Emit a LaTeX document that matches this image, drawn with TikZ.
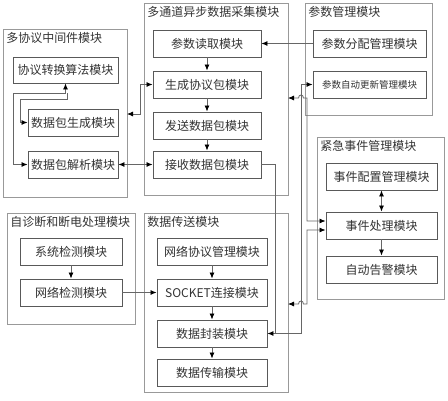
\documentclass[tikz,border=0pt]{standalone}
\usepackage{fontspec}
\setmainfont{Noto Sans CJK SC}
\usepackage{xcolor}
\usetikzlibrary{arrows.meta}
\tikzset{%
  box/.style={draw=black!65, line width=0.9pt, rectangle, minimum height=27pt, inner sep=0pt, fill=white, text=black!80, font=\fontsize{12pt}{14pt}\selectfont},%
  frame/.style={draw=black!40, line width=0.9pt, rectangle, inner sep=0pt},%
  title/.style={anchor=north west, inner sep=3.5pt, text=black!80, font=\fontsize{12pt}{14pt}\selectfont},%
  link/.style={draw=black!60, line width=0.8pt},%
  arr/.style={link, -{Latex[length=6pt,width=5pt,color=black]}},%
  darr/.style={link, {Latex[length=6pt,width=5pt,color=black]}-{Latex[length=6pt,width=5pt,color=black]}}%
}
\begin{document}
\begin{tikzpicture}[x=1pt, y=-1pt]%
\useasboundingbox (0,0) rectangle (448,400);%
\node[frame, minimum width=124pt, minimum height=168pt] (mpm) at (65,113) {};%
\node[title] (mpmt) at (mpm.north west) {多协议中间件模块};%
\node[frame, minimum width=144pt, minimum height=192pt] (mch) at (216,99) {};%
\node[title] (mcht) at (mch.north west) {多通道异步数据采集模块};%
\node[frame, minimum width=127pt, minimum height=112pt] (pm) at (368.5,59) {};%
\node[title] (pmt) at (pm.north west) {参数管理模块};%
\node[frame, minimum width=127pt, minimum height=162pt] (em) at (380.5,218) {};%
\node[title] (emt) at (em.north west) {紧急事件管理模块};%
\node[frame, minimum width=128pt, minimum height=111pt] (sd) at (71,268.5) {};%
\node[title] (sdt) at (sd.north west) {自诊断和断电处理模块};%
\node[frame, minimum width=144pt, minimum height=179pt] (dt) at (216,302.5) {};%
\node[title] (dtt) at (dt.north west) {数据传送模块};%
\node[box, minimum width=105pt, minimum height=26pt] (conv) at (65.5,70) {协议转换算法模块};%
\node[box, minimum width=90pt] (gen) at (73,122.5) {数据包生成模块};%
\node[box, minimum width=90pt] (parse) at (73,164.5) {数据包解析模块};%
\node[box, minimum width=108pt] (pread) at (207,43.5) {参数读取模块};%
\node[box, minimum width=108pt] (pgen) at (207,84.5) {生成协议包模块};%
\node[box, minimum width=108pt] (psend) at (207,125.5) {发送数据包模块};%
\node[box, minimum width=108pt] (precv) at (207,164.5) {接收数据包模块};%
\node[box, minimum width=113pt] (palloc) at (369.5,43.5) {参数分配管理模块};%
\node[box, minimum width=113pt, font=\fontsize{9.5pt}{11pt}\selectfont] (pauto) at (369.5,84.5) {参数自动更新管理模块};%
\node[box, minimum width=111pt] (evcfg) at (381.5,176.5) {事件配置管理模块};%
\node[box, minimum width=111pt] (evproc) at (381.5,225.5) {事件处理模块};%
\node[box, minimum width=111pt] (alarm) at (381.5,269.5) {自动告警模块};%
\node[box, minimum width=102pt] (syschk) at (71,251.5) {系统检测模块};%
\node[box, minimum width=102pt] (netchk) at (71,292.5) {网络检测模块};%
\node[box, minimum width=110pt] (netproto) at (212,251.5) {网络协议管理模块};%
\node[box, minimum width=110pt] (socket) at (212,292.5) {SOCKET连接模块};%
\node[box, minimum width=110pt] (pack) at (212,333.5) {数据封装模块};%
\node[box, minimum width=110pt] (trans) at (212,372.5) {数据传输模块};%
\coordinate (c1) at (13,93);%
\coordinate (c2a) at (67,93);%
\coordinate (c2) at (20,99);%
\coordinate (c3) at (140,114);%
\coordinate (mpmin) at (127,114);%
\coordinate (j1) at (275,333.5);%
\coordinate (j2) at (301,333.5);%
\coordinate (h1) at (307,98);%
\coordinate (mchin) at (288,98);%
\coordinate (h2) at (307,304);%
\coordinate (dtin) at (288,304);%
\draw[arr] (pread.south) -- (pgen.north);%
\draw[arr] (pgen.south) -- (psend.north);%
\draw[arr] (psend.south) -- (precv.north);%
\draw[arr] (syschk.south) -- (netchk.north);%
\draw[arr] (netproto.south) -- (socket.north);%
\draw[arr] (socket.south) -- (pack.north);%
\draw[arr] (pack.south) -- (trans.north);%
\draw[arr] (evproc.south) -- (alarm.north);%
\draw[darr] (evcfg.south) -- (evproc.north);%
\draw[arr] (netchk.east) -- (socket.west);%
\draw[arr] (palloc.west) -- (pread.east);%
\draw[darr] (parse.east) -- (precv.west);%
\draw[darr] (conv.south) |- (c1) |- (parse.west);%
\draw[arr] (c2a) |- (c2) |- (gen.west);%
\draw[darr] (pgen.west) -| (c3) -- (mpmin);%
\draw[arr] (precv.east) -| (j1) -- (pack.east);%
\draw[arr] (j1) -- (j2) |- (pauto.west);%
\draw[darr] ([yshift=4.5pt]evproc.west) -| (h1) -- (303.5,98) .. controls (303.5,94) and (298.5,94) .. (298.5,98) -- (mchin);%
\draw[darr] ([yshift=-4.5pt]evproc.west) -| (h2) -- (303.5,304) .. controls (303.5,300) and (298.5,300) .. (298.5,304) -- (dtin);%
\end{tikzpicture}%
\end{document}
